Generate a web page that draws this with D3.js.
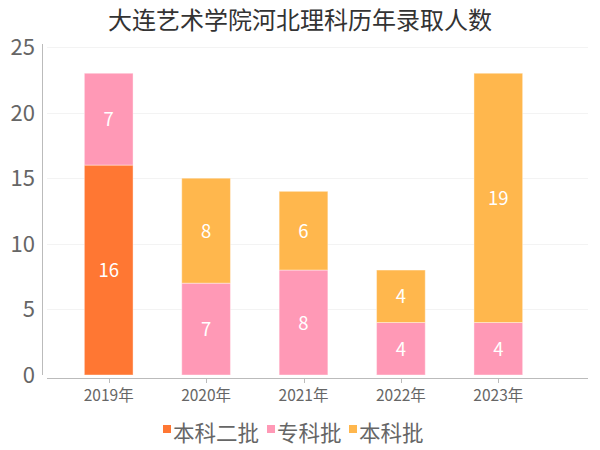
<!DOCTYPE html>
<html lang="zh">
<meta charset="utf-8">
<head>
	<title>大连艺术学院河北理科历年录取人数</title>
	<script src="https://d3js.org/d3.v7.min.js"></script>
</head>
<style type="text/css">
	body { margin: 0; background: white; }
	text { font-family: 'Noto Sans CJK SC', 'Noto Sans', sans-serif; }
	.chartTitle { font-size: 24px; fill: #333; }
	.yTick { font-size: 22px; fill: #666; }
	.xTick { font-size: 15.5px; fill: #666; }
	.legendText { font-size: 21.5px; fill: #666; }
	.barLabel { font-size: 18.5px; fill: white; }
	.grid { stroke: #f3f3f3; stroke-width: 1; }
	.axisLine { stroke: #bbb; stroke-width: 1; fill: none; }
</style>
<body>
	<script type="text/javascript">

		var years = ["2019年", "2020年", "2021年", "2022年", "2023年"];
		var seriesNames = ["本科二批", "专科批", "本科批"];
		var benke2 = [16, 0, 0, 0, 0];
		var zhuanke = [7, 7, 8, 4, 4];
		var benke = [0, 8, 6, 4, 19];
		var yTicks = [0, 5, 10, 15, 20, 25];
		var colours = ["#ff7733", "#ff99b6", "#ffb74d"];

		var width = 600,
			height = 450;

		var svg = d3.select("body")
					.append("svg")
					.attr("width", width)
					.attr("height", height);

		var table = years.map(function(y, i) {
			return { year: y, "本科二批": benke2[i], "专科批": zhuanke[i], "本科批": benke[i] };
		});
		var stacked = d3.stack().keys(seriesNames)(table);

		var x = d3.scaleBand().domain(years).range([60, 547]).paddingInner(0.5).paddingOuter(0.25);
		var y = d3.scaleLinear().domain([0, 25]).range([375, 47]);

		// title
		svg.append("text")
		   .attr("class", "chartTitle")
		   .attr("text-anchor", "middle")
		   .attr("x", 300)
		   .attr("y", 29)
		   .text("大连艺术学院河北理科历年录取人数");

		// grid lines
		svg.selectAll(".grid")
		   .data(yTicks.slice(1))
		   .enter().append("line")
		   .attr("class", "grid")
		   .attr("x1", 47).attr("x2", 588)
		   .attr("y1", function(d) { return Math.round(y(d)) + 0.5; })
		   .attr("y2", function(d) { return Math.round(y(d)) + 0.5; });

		// y tick labels
		svg.selectAll(".yTick")
		   .data(yTicks)
		   .enter().append("text")
		   .attr("class", "yTick")
		   .attr("text-anchor", "end")
		   .attr("x", 35)
		   .attr("y", function(d) { return y(d) + 8; })
		   .text(function(d) { return d; });

		// bars
		var layers = svg.selectAll(".layer")
						.data(stacked)
						.enter().append("g")
						.attr("fill", function(d, i) { return colours[i]; });

		layers.selectAll("rect")
			  .data(function(d) { return d.filter(function(p) { return p[1] - p[0] > 0; }); })
			  .enter().append("rect")
			  .attr("x", function(d) { return x(d.data.year); })
			  .attr("width", x.bandwidth())
			  .attr("y", function(d) { return y(d[1]); })
			  .attr("height", function(d) { return y(d[0]) - y(d[1]); })
			  .attr("stroke", "rgba(255,255,255,0.4)")
			  .attr("stroke-width", 1);

		layers.selectAll("text")
			  .data(function(d) { return d.filter(function(p) { return p[1] - p[0] > 0; }); })
			  .enter().append("text")
			  .attr("class", "barLabel")
			  .attr("text-anchor", "middle")
			  .attr("x", function(d) { return x(d.data.year) + x.bandwidth() / 2; })
			  .attr("y", function(d) { return (y(d[0]) + y(d[1])) / 2 + 7; })
			  .text(function(d) { return d[1] - d[0]; });

		// axes
		svg.append("line")
		   .attr("class", "axisLine")
		   .attr("x1", 42.5).attr("x2", 42.5)
		   .attr("y1", 44).attr("y2", 375);

		svg.append("line")
		   .attr("class", "axisLine")
		   .attr("x1", 47).attr("x2", 588)
		   .attr("y1", 378.5).attr("y2", 378.5);

		svg.selectAll(".xTickMark")
		   .data(years)
		   .enter().append("line")
		   .attr("class", "axisLine")
		   .attr("x1", function(d) { return Math.round(x(d) + x.bandwidth() / 2) + 0.5; })
		   .attr("x2", function(d) { return Math.round(x(d) + x.bandwidth() / 2) + 0.5; })
		   .attr("y1", 379).attr("y2", 383);

		svg.selectAll(".xTick")
		   .data(years)
		   .enter().append("text")
		   .attr("class", "xTick")
		   .attr("text-anchor", "middle")
		   .attr("x", function(d) { return x(d) + x.bandwidth() / 2; })
		   .attr("y", 401)
		   .text(function(d) { return d; });

		// legend
		var legendX = [163, 267, 349];
		var legend = svg.selectAll(".legend")
						.data(seriesNames)
						.enter().append("g")
						.attr("transform", function(d, i) { return "translate(" + legendX[i] + ",433)"; });

		legend.append("rect")
			  .attr("x", 0).attr("y", -8)
			  .attr("width", 8).attr("height", 8)
			  .attr("fill", function(d, i) { return colours[i]; });

		legend.append("text")
			  .attr("class", "legendText")
			  .attr("x", 10)
			  .attr("y", 8)
			  .text(function(d) { return d; });

	</script>
</body>
</html>
